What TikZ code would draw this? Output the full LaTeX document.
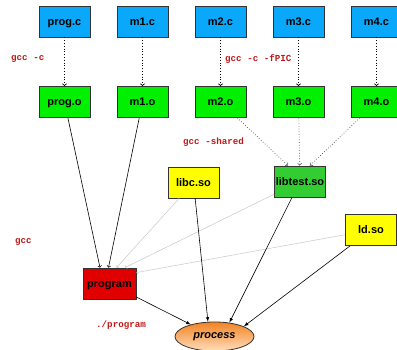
\documentclass[tikz,border=0pt]{standalone}
\usepackage{fontspec}
\setsansfont{Liberation Sans}
\setmonofont{Liberation Mono}
\usetikzlibrary{positioning,shapes.geometric}
\definecolor{srcblue}{HTML}{0AA8FA}
\definecolor{objgreen}{HTML}{00F000}
\definecolor{libgreen}{HTML}{33CC33}
\definecolor{soyellow}{HTML}{FFFF00}
\definecolor{exered}{HTML}{E00000}
\definecolor{optred}{HTML}{C01818}
\definecolor{procorange}{HTML}{F28424}
\definecolor{procpale}{HTML}{FFDDBB}

\begin{document}
\begin{tikzpicture}[x=1pt, y=1pt, on grid, node distance=78pt,
  file/.style = {draw=black!80, line width=0.8pt, minimum width=51pt, minimum height=31pt, inner sep=0pt, text height=8pt, text depth=0pt, font=\sffamily\bfseries\fontsize{11}{13}\selectfont},
  src/.style = {file, fill=srcblue},
  obj/.style = {file, fill=objgreen},
  opt/.style = {text=optred, font=\ttfamily\bfseries\fontsize{9.2}{11}\selectfont, inner sep=0pt, anchor=west},
  compile/.style = {->, dotted, line width=0.8pt},
  share/.style = {->, dotted, black!70, line width=0.7pt},
  link/.style = {->, line width=0.6pt},
  dyn/.style = {->, black!22, line width=0.5pt},
  load/.style = {-latex, line width=0.6pt}]
\useasboundingbox (0,0) rectangle (397,350);
\node[src] (progc) at (64.5,328.5) {prog.c};
\node[src] (m1c) [right=of progc] {m1.c};
\node[src] (m2c) [right=of m1c] {m2.c};
\node[src] (m3c) [right=of m2c] {m3.c};
\node[src] (m4c) [right=of m3c] {m4.c};
\node[obj] (progo) [below=80.5pt of progc] {prog.o};
\node[obj] (m1o) [below=80.5pt of m1c] {m1.o};
\node[obj] (m2o) [below=80.5pt of m2c] {m2.o};
\node[obj] (m3o) [below=80.5pt of m3c] {m3.o};
\node[obj] (m4o) [below=80.5pt of m4c] {m4.o};
\node[file, fill=soyellow] (libc) at (193.5,167.5) {libc.so};
\node[file, fill=libgreen] (libtest) at (300,168.5) {libtest.so};
\node[file, fill=soyellow] (ld) at (371,120) {ld.so};
\node[file, fill=exered, minimum width=53pt] (program) at (109.5,66.5) {program};
\node[ellipse, draw=black!80, line width=0.8pt, top color=procorange, bottom color=procpale,
  minimum width=79pt, minimum height=29pt, inner sep=0pt,
  font=\sffamily\bfseries\itshape\fontsize{11}{13}\selectfont] (process) at (214.5,13.5) {process};
% labels
\node[opt] (cc) at (11,291) {gcc -c};
\node[opt] (ccpic) at (225,291) {gcc -c -fPIC};
\node[opt] (ccshared) at (183,208) {gcc -shared};
\node[opt] (cclink) at (15,108) {gcc};
\node[opt] (run) at (96,24.5) {./program};
% edges
\draw[compile] (progc) -- (progo);
\draw[compile] (m1c) -- (m1o);
\draw[compile] (m2c) -- (m2o);
\draw[compile] (m3c) -- (m3o);
\draw[compile] (m4c) -- (m4o);
\draw[share] (m2o) -- ([xshift=-12pt]libtest.north);
\draw[share] (m3o) -- (libtest);
\draw[share] (m4o) -- ([xshift=10pt]libtest.north);
\draw[link] (progo) -- ([xshift=-9.5pt]program.north);
\draw[link] (m1o) -- ([xshift=-1pt]program.north);
\draw[dyn] (libc) -- ([xshift=7pt]program.north);
\draw[dyn] (libtest) -- ([xshift=15.5pt]program.north);
\draw[dyn] (ld) -- ([yshift=-5pt]program.north east);
\draw[load] (program) -- (process);
\draw[load] (libc) -- (process.114);
\draw[load] (libtest) -- (process.43);
\draw[load] (ld) -- (process.19);
\end{tikzpicture}
\end{document}
